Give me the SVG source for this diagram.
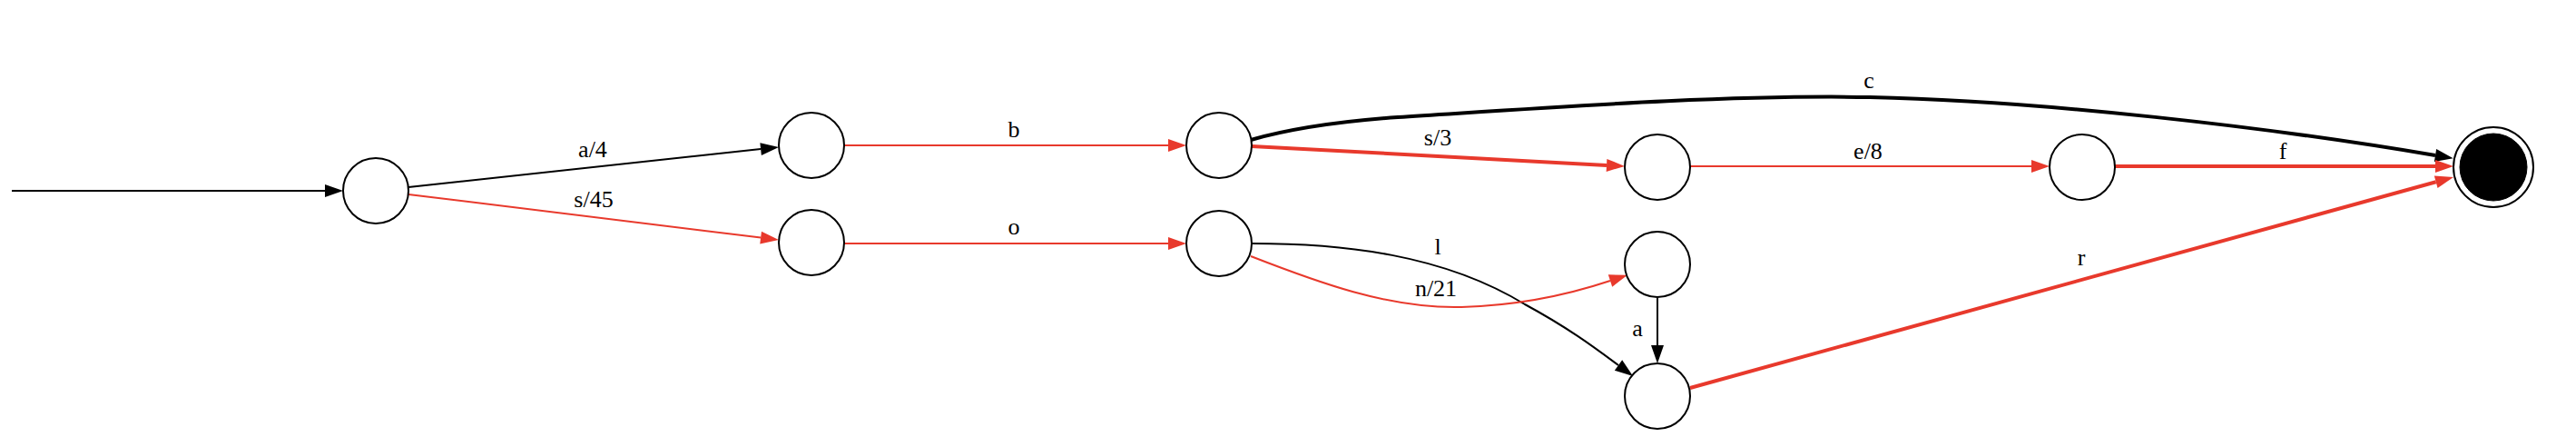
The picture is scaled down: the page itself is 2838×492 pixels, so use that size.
<svg xmlns="http://www.w3.org/2000/svg" width="2838" height="492" viewBox="0 0 2838 492">
<style>
.node{fill:#ffffff;stroke:#000000;stroke-width:2}
.e{fill:none;stroke-linecap:butt}
.k{stroke:#000000}
.r{stroke:#e8392c}
.thin{stroke-width:2}
.thick{stroke-width:4}
text{font-family:"Liberation Serif","Times New Roman",serif;font-size:26px;fill:#000000;text-anchor:middle}
</style>
<defs>
<marker id="ak" markerUnits="userSpaceOnUse" markerWidth="20" markerHeight="14" refX="0" refY="7" orient="auto" overflow="visible">
<path d="M0,0 L20,7 L0,14 z" fill="#000000"/>
</marker>
<marker id="ar" markerUnits="userSpaceOnUse" markerWidth="20" markerHeight="14" refX="0" refY="7" orient="auto" overflow="visible">
<path d="M0,0 L20,7 L0,14 z" fill="#e8392c"/>
</marker>
</defs>
<rect width="2838" height="492" fill="#ffffff"/>
<g id="connectors">
<path class="e k thin" d="M13,210 L358,210" marker-end="url(#ak)"/>
<path class="e k thin" d="M450,206 L838.1,164.1" marker-end="url(#ak)"/>
<path class="e r thin" d="M450,214 L838.1,261.6" marker-end="url(#ar)"/>
<path class="e r thin" d="M930,160 L1287,160" marker-end="url(#ar)"/>
<path class="e r thin" d="M930,268 L1287,268" marker-end="url(#ar)"/>
<path class="e r thick" d="M1379,161 L1770,181.9" marker-end="url(#ar)"/>
<path class="e k thick" d="M1378,154 C1420,142 1470,134 1540,129 C1700,119 1900,104 2060,107 C2250,111 2500,140 2683,171" marker-end="url(#ak)"/>
<path class="e r thin" d="M1862,183 L2238,183" marker-end="url(#ar)"/>
<path class="e r thick" d="M2330,183 L2683,183" marker-end="url(#ar)"/>
<path class="e k thin" d="M1379,268 C1480,268 1590,280 1680,335 C1730,362 1760,385 1783,402" marker-end="url(#ak)"/>
<path class="e r thin" d="M1378,282 C1450,310 1530,340 1610,338 C1680,336 1735,322 1774,309" marker-end="url(#ar)"/>
<path class="e k thin" d="M1826,328 L1826,380" marker-end="url(#ak)"/>
<path class="e r thick" d="M1862,427 L2683.7,200.3" marker-end="url(#ar)"/>
<text x="653" y="173">a/4</text>
<text x="654" y="228">s/45</text>
<text x="1117" y="151">b</text>
<text x="1117" y="258">o</text>
<text x="1584" y="160">s/3</text>
<text x="2059" y="97">c</text>
<text x="2058" y="175">e/8</text>
<text x="2515" y="175">f</text>
<text x="1584" y="280">l</text>
<text x="1582" y="326">n/21</text>
<text x="1804" y="370">a</text>
<text x="2293" y="292">r</text>
</g>
<g id="n1"><circle class="node" cx="414" cy="210" r="36"/></g>
<g id="n2"><circle class="node" cx="894" cy="160" r="36"/></g>
<g id="n3"><circle class="node" cx="894" cy="267" r="36"/></g>
<g id="n4"><circle class="node" cx="1343" cy="160" r="36"/></g>
<g id="n5"><circle class="node" cx="1343" cy="268" r="36"/></g>
<g id="n6"><circle class="node" cx="1826" cy="184" r="36"/></g>
<g id="n7"><circle class="node" cx="1826" cy="291" r="36"/></g>
<g id="n8"><circle class="node" cx="1826" cy="436" r="36"/></g>
<g id="n9"><circle class="node" cx="2294" cy="184" r="36"/></g>
<g id="final"><circle class="node" cx="2747" cy="184" r="44"/><circle cx="2747" cy="184" r="37" fill="#000000" stroke="#000000" stroke-width="1"/></g>
</svg>
